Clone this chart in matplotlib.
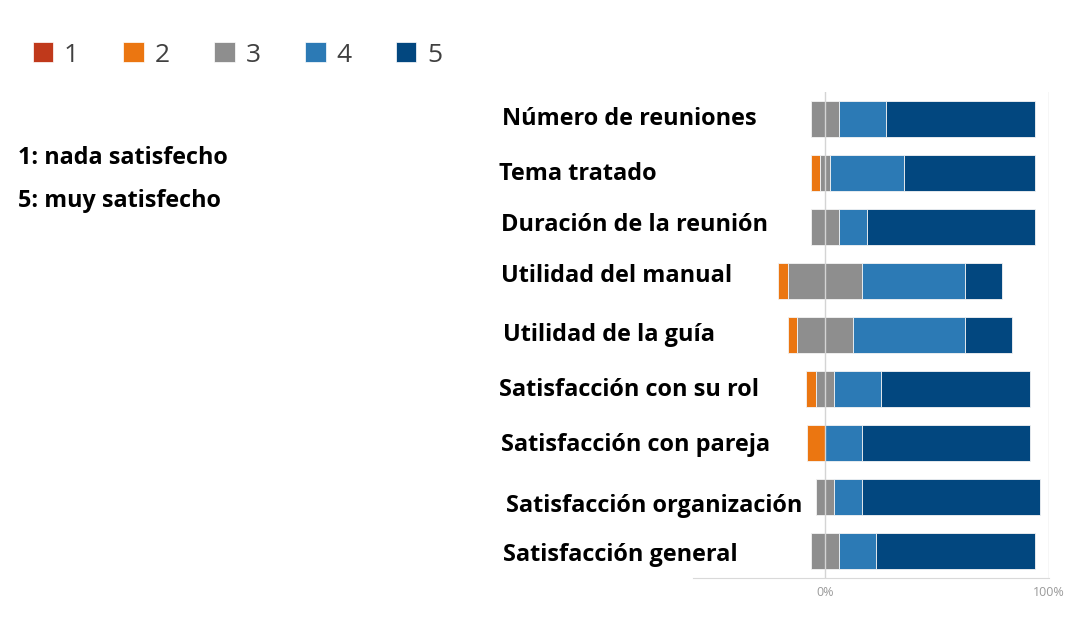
import numpy as np
import matplotlib
matplotlib.use("Agg")
import matplotlib.pyplot as plt
from matplotlib.patches import Patch
from matplotlib.transforms import blended_transform_factory, offset_copy

# ---- Data (percent of answers, n = 24) ----
items = ["Número de reuniones", "Tema tratado", "Duración de la reunión",
         "Utilidad del manual", "Utilidad de la guía", "Satisfacción con su rol",
         "Satisfacción con pareja", "Satisfacción organización", "Satisfacción general"]
levels = ["1", "2", "3", "4", "5"]
p1 = [0.0, 0.0, 0.0, 0.0, 0.0, 0.0, 0.0, 0.0, 0.0]
p2 = [0.0, 4.2, 0.0, 4.2, 4.2, 4.2, 8.3, 0.0, 0.0]
p3 = [12.5, 4.2, 12.5, 33.3, 25.0, 8.3, 0.0, 8.3, 12.5]
p4 = [20.8, 33.3, 12.5, 45.8, 50.0, 20.8, 16.7, 12.5, 16.7]
p5 = [66.7, 58.3, 75.0, 16.7, 20.8, 66.7, 75.0, 79.2, 70.8]

colors = ["#C0391B", "#EB7611", "#8E8E8E", "#2C7AB5", "#02477F"]

# label text boxes are placed by hand in the original (pixel nudges)
label_x = [502, 499, 501, 501, 503, 499, 501, 506, 503]
label_dy = [0, 1, -2, -5, 0, 1, 2, 9, 4]

# ---- Figure ----
W, H = 1069, 619
fig = plt.figure(figsize=(W / 100, H / 100), dpi=100)
ax = fig.add_axes([693 / W, 1 - 578 / H, (1049 - 693) / W, (578 - 92) / H])

y = np.arange(len(items))
series = [np.array(p) for p in (p1, p2, p3, p4, p5)]
left = -(series[0] + series[1] + series[2] / 2)
for s, c in zip(series, colors):
    ax.barh(y, s, left=left, height=0.66, color=c, edgecolor="#f4f4f4", linewidth=0.6, zorder=2)
    left = left + s

ax.set_xlim(-59, 100)
ax.set_ylim(len(items) - 0.5, -0.5)
ax.set_xticks([0, 100])
ax.set_xticklabels(["0%", "100%"], color="#9a9a9a", fontsize=9, family="Open Sans")
ax.tick_params(axis="x", length=0, pad=6)
ax.set_axisbelow(False)
ax.grid(axis="x", color="#d4d4d4", linewidth=1, zorder=3)
for side in ["left", "top", "right"]:
    ax.spines[side].set_visible(False)
ax.spines["bottom"].set_color("#d9d9d9")

# category labels, left aligned
ax.set_yticks([])
tr = blended_transform_factory(fig.transFigure, ax.transData)
for i, lab in enumerate(items):
    t = offset_copy(tr, fig=fig, x=0, y=-label_dy[i] * 0.72, units="points")
    ax.text(label_x[i] / W, i, lab, transform=t, ha="left", va="center",
            fontsize=16.9, fontweight="bold", family="Open Sans", color="black")

# scale notes
fig.text(18 / W, 1 - 158 / H, "1: nada satisfecho", ha="left", va="center",
         fontsize=16.8, fontweight="bold", family="Open Sans")
fig.text(18 / W, 1 - 201 / H, "5: muy satisfecho", ha="left", va="center",
         fontsize=16.8, fontweight="bold", family="Open Sans")

# legend
handles = [Patch(facecolor=c, edgecolor="white", linewidth=0.5) for c in colors]
fig.legend(handles, levels, loc="center left", bbox_to_anchor=(22 / W, 1 - 55 / H),
           ncol=5, frameon=False, prop={"family": "Open Sans", "size": 19},
           labelcolor="#404040", handlelength=0.78, handleheight=0.78,
           handletextpad=0.4, columnspacing=1.69, borderaxespad=0)

fig.savefig("out.png", dpi=100)
